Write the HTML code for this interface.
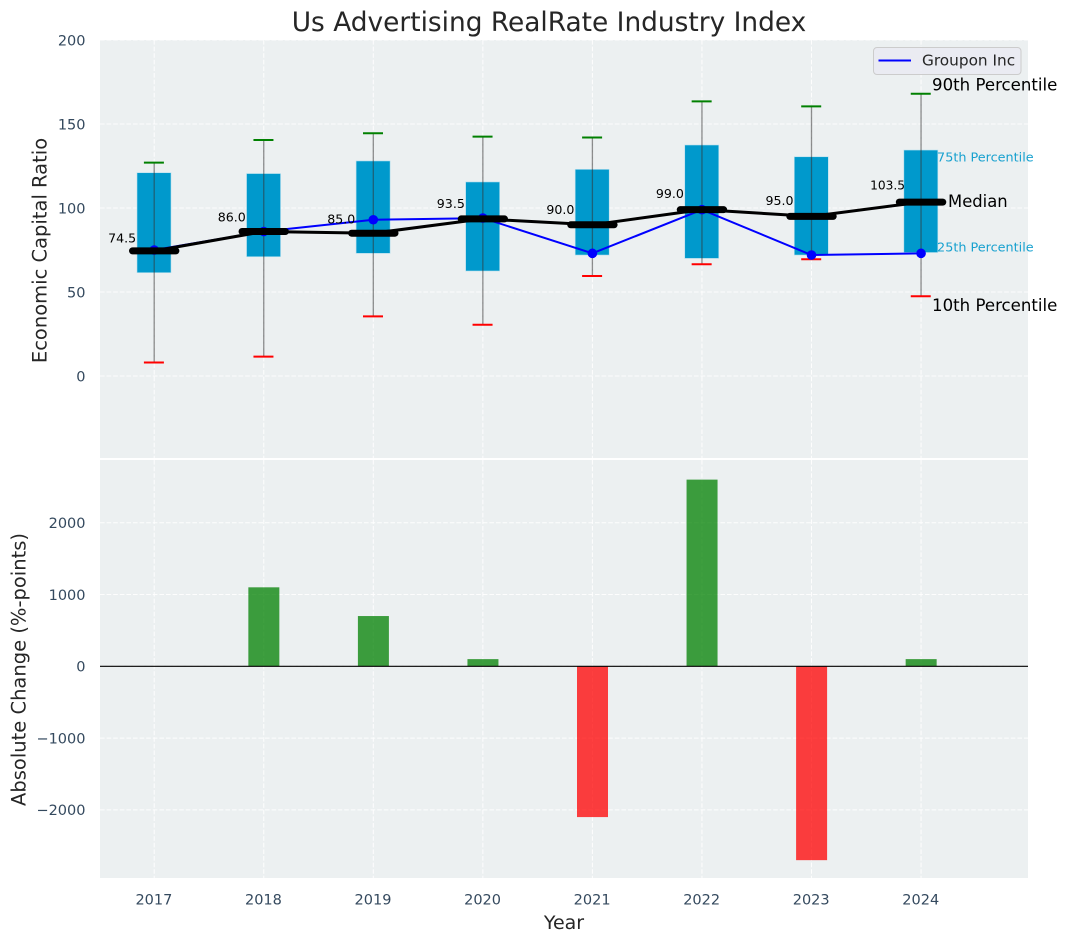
<!DOCTYPE html>
<html>
<head>
<meta charset="utf-8">
<title>Us Advertising RealRate Industry Index</title>
<style>
html,body{margin:0;padding:0;background:#fff;}
svg{display:block;font-family:"DejaVu Sans","Liberation Sans",sans-serif;}
</style>
</head>
<body>
<svg id="chart" width="1067" height="942" viewBox="0 0 1067 942" xmlns="http://www.w3.org/2000/svg">
  <rect x="100" y="40" width="928" height="418" fill="#ecf0f1"/>
  <rect x="100" y="460" width="928" height="418" fill="#ecf0f1"/>
  <g id="grid"></g>
  <g id="top-marks"></g>
  <g id="bottom-marks"></g>
  <g id="ticks"></g>
  <text x="549" y="31" text-anchor="middle" font-size="26.4" fill="#262626">Us Advertising RealRate Industry Index</text>
  <text transform="translate(46.5,250.5) rotate(-90)" text-anchor="middle" font-size="19.5" fill="#262626">Economic Capital Ratio</text>
  <text transform="translate(25.5,669.5) rotate(-90)" text-anchor="middle" font-size="19.5" fill="#262626">Absolute Change (%-points)</text>
  <text x="564" y="929" text-anchor="middle" font-size="19" fill="#262626">Year</text>
  <g>
    <rect x="873.5" y="47.5" width="147.5" height="27" rx="3.5" fill="#eaeaf2" fill-opacity="0.8" stroke="#cccccc"/>
    <line x1="878.5" y1="60.5" x2="911" y2="60.5" stroke="#0000ff" stroke-width="2"/>
    <text x="922" y="65.5" font-size="15.3" fill="#262626">Groupon Inc</text>
  </g>
</svg>
<script>
const years = [2017, 2018, 2019, 2020, 2021, 2022, 2023, 2024];
const p10 = [8, 11.5, 35.5, 30.5, 59.5, 66.5, 69.5, 47.5];
const p25 = [61.5, 71, 73, 62.5, 72, 70, 72, 73.5];
const medians = [74.5, 86, 85, 93.5, 90, 99, 95, 103.5];
const p75 = [121, 120.5, 128, 115.5, 123, 137.5, 130.5, 134.5];
const p90 = [127, 140.5, 144.5, 142.5, 142, 163.5, 160.5, 168];
const groupon = [75, 86, 93, 94, 73, 99, 72, 73];
const changes = [0, 1100, 700, 100, -2100, 2600, -2700, 100];
const topTicks = [0, 50, 100, 150, 200];
const bottomTicks = [-2000, -1000, 0, 1000, 2000];

const NS = 'http://www.w3.org/2000/svg';
const xScale = function (year) { return 154.2 + (year - 2017) * 109.55; };
const yTop = function (v) { return 376 - v * 1.68; };
const yBottom = function (v) { return 666.3 - v * 0.0718; };

function make(parent, tag, attrs, text) {
  const el = document.createElementNS(NS, tag);
  Object.keys(attrs).forEach(function (k) { el.setAttribute(k, attrs[k]); });
  if (text !== undefined) el.textContent = text;
  parent.appendChild(el);
  return el;
}

const grid = document.getElementById('grid');
const ticks = document.getElementById('ticks');
const topG = document.getElementById('top-marks');
const botG = document.getElementById('bottom-marks');
const gridStyle = { stroke: '#ffffff', 'stroke-width': 1, 'stroke-dasharray': '4.6 2', opacity: 0.9 };

years.forEach(function (yr) {
  const x = xScale(yr);
  const a = make(grid, 'line', Object.assign({ x1: x, x2: x, y1: 40, y2: 458 }, gridStyle));
  
  
  const b = make(grid, 'line', Object.assign({ x1: x, x2: x, y1: 460, y2: 878 }, gridStyle));
  
  
  const t = make(ticks, 'text', { x: x - 0.3, y: 904.5, 'text-anchor': 'middle', 'font-size': 14.5, fill: '#34495e' }, String(yr));
  
  
});

topTicks.forEach(function (v) {
  const y = yTop(v);
  const g = make(grid, 'line', Object.assign({ x1: 100, x2: 1028, y1: y, y2: y }, gridStyle));
  
  
  const t = make(ticks, 'text', { x: 85.5, y: y + 5.3, 'text-anchor': 'end', 'font-size': 14.5, fill: '#34495e' }, String(v));
  
  
});

bottomTicks.forEach(function (v) {
  const y = yBottom(v);
  const g = make(grid, 'line', Object.assign({ x1: 100, x2: 1028, y1: y, y2: y }, gridStyle));
  
  
  const label = v < 0 ? '\u2212' + Math.abs(v) : String(v);
  const t = make(ticks, 'text', { x: 85.5, y: y + 5.3, 'text-anchor': 'end', 'font-size': 14.5, fill: '#34495e' }, label);
  
  
});

/* percentile boxes */
years.forEach(function (yr, i) {
  const x = xScale(yr);
  const box = make(topG, 'rect', {
    x: x - 17.2, width: 34, y: yTop(p75[i]), height: yTop(p25[i]) - yTop(p75[i]),
    fill: '#0099cc', stroke: '#b5dfee', 'stroke-width': 0.6
  });
  
  
});

/* whiskers and caps */
years.forEach(function (yr, i) {
  const x = xScale(yr);
  const w = make(topG, 'line', { x1: x, x2: x, y1: yTop(p90[i]), y2: yTop(p10[i]), stroke: '#333333', 'stroke-opacity': 0.55, 'stroke-width': 1.3 });
  
  
  const hi = make(topG, 'line', { x1: x - 10.3, x2: x + 9.7, y1: yTop(p90[i]), y2: yTop(p90[i]), stroke: '#008000', 'stroke-width': 2 });
  
  
  const lo = make(topG, 'line', { x1: x - 10.3, x2: x + 9.7, y1: yTop(p10[i]), y2: yTop(p10[i]), stroke: '#ff0000', 'stroke-width': 2 });
  
  
});

/* groupon series */
const blue = make(topG, 'polyline', {
  points: years.map(function (yr, i) { return xScale(yr) + ',' + yTop(groupon[i]); }).join(' '),
  fill: 'none', stroke: '#0000ff', 'stroke-width': 2
});


years.forEach(function (yr, i) {
  const c = make(topG, 'circle', { cx: xScale(yr), cy: yTop(groupon[i]), r: 4.8, fill: '#0000ff' });
  
  
});

/* median line, bars and labels */
const medLine = make(topG, 'polyline', {
  points: years.map(function (yr, i) { return xScale(yr) + ',' + yTop(medians[i]); }).join(' '),
  fill: 'none', stroke: '#000000', 'stroke-width': 3
});


years.forEach(function (yr, i) {
  const x = xScale(yr);
  const y = yTop(medians[i]);
  const m = make(topG, 'line', { x1: x - 21.7, x2: x + 21.7, y1: y, y2: y, stroke: '#000000', 'stroke-width': 7, 'stroke-linecap': 'round' });
  
  
  const labelText = medians[i].toFixed(1);
  const t = make(topG, 'text', { x: x - 18 + (labelText.length > 4 ? 2 : 0), y: yTop(medians[i] * 1.08) + 1.5, 'text-anchor': 'end', 'font-size': labelText.length > 4 ? 12.2 : 12.6, fill: '#000000' }, labelText);
  
  
});

/* percentile annotations beside the last year */
const last = years.length - 1;
const lx = xScale(years[last]);
const a90 = make(topG, 'text', { x: lx + 11, y: yTop(p90[last]) - 3.5, 'font-size': 16.6, fill: '#000000' }, '90th Percentile');


const a75 = make(topG, 'text', { x: lx + 16, y: yTop(p75[last]) + 11.5, 'font-size': 12.8, fill: '#0099cc', opacity: 0.9 }, '75th Percentile');


const aMed = make(topG, 'text', { x: lx + 27, y: yTop(medians[last]) + 4.8, 'font-size': 16.4, fill: '#000000' }, 'Median');


const a25 = make(topG, 'text', { x: lx + 16, y: yTop(p25[last]) - 1, 'font-size': 12.8, fill: '#0099cc', opacity: 0.9 }, '25th Percentile');


const a10 = make(topG, 'text', { x: lx + 11, y: yTop(p10[last]) + 15, 'font-size': 16.6, fill: '#000000' }, '10th Percentile');



/* change bars */
years.forEach(function (yr, i) {
  const v = changes[i];
  const x = xScale(yr);
  const y0 = yBottom(0);
  const y1 = yBottom(v);
  const bar = make(botG, 'rect', {
    x: x - 15.4, width: 31, y: Math.min(y0, y1), height: Math.abs(y1 - y0),
    fill: v >= 0 ? '#008000' : '#ff0000', 'fill-opacity': 0.75
  });
  
  
});
const zero = make(botG, 'line', { x1: 100, x2: 1028, y1: yBottom(0), y2: yBottom(0), stroke: '#000000', 'stroke-width': 1.1 });


</script>
</body>
</html>
